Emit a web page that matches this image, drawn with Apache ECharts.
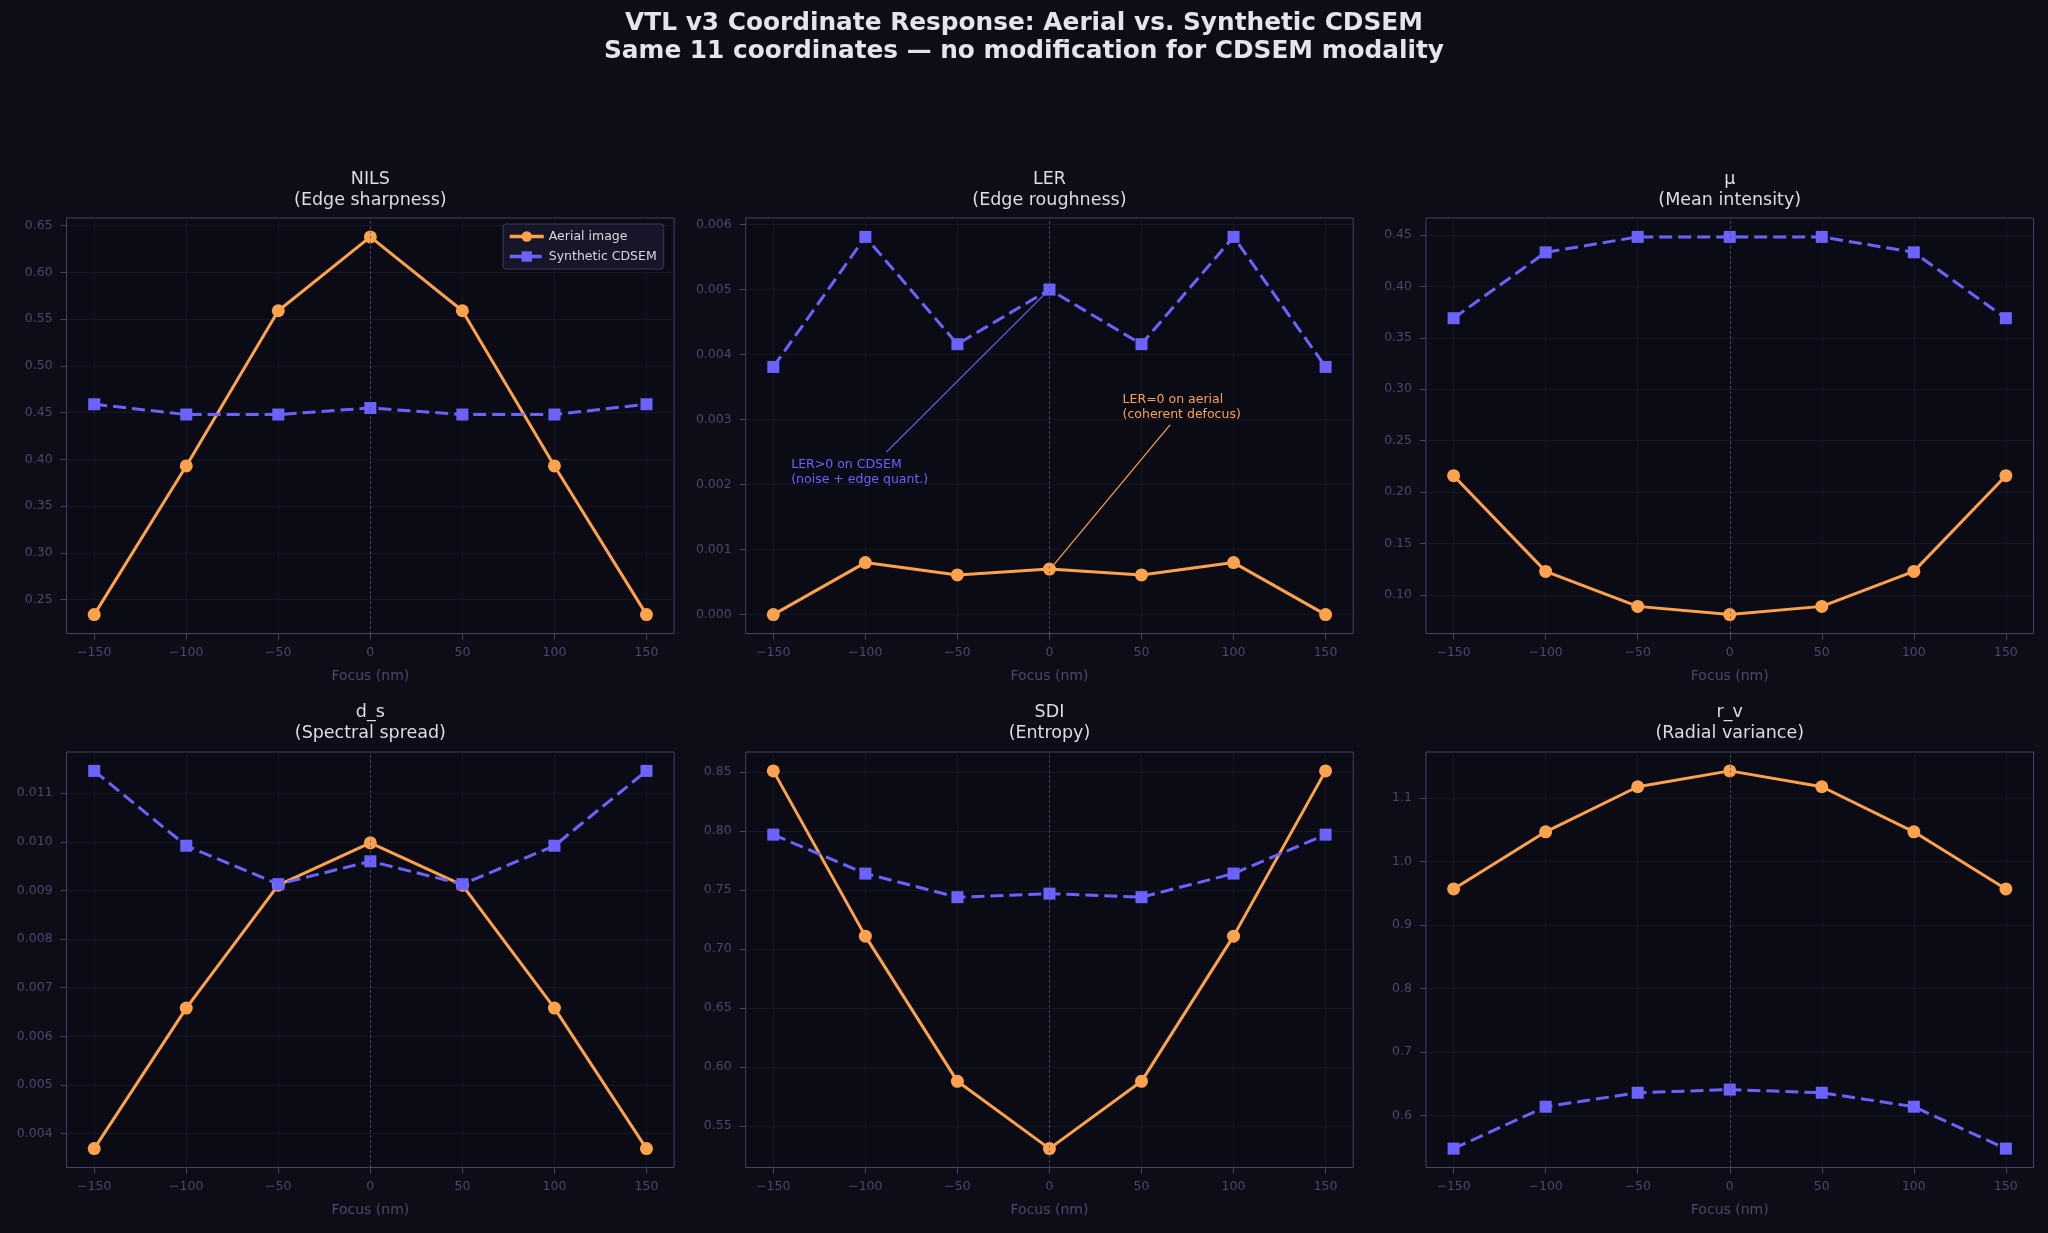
<!DOCTYPE html>
<html>
<head>
<meta charset="utf-8">
<title>VTL v3 Coordinate Response</title>
<script src="https://cdn.jsdelivr.net/npm/echarts@6/dist/echarts.min.js"></script>
<style>
  html, body { margin: 0; padding: 0; background: #0d0d18; }
  #chart { width: 2048px; height: 1233px; }
</style>
</head>
<body>
<div id="chart"></div>
<script>
  // focus positions (nm), shared by every panel
  const focus = [-150, -100, -50, 0, 50, 100, 150]
  const xTicks = [-150, -100, -50, 0, 50, 100, 150]

  // NILS (edge sharpness)
  const nilsAerial = [0.234, 0.393, 0.559, 0.638, 0.559, 0.393, 0.234]
  const nilsCdsem = [0.459, 0.448, 0.448, 0.455, 0.448, 0.448, 0.459]
  const nilsTicks = [0.25, 0.30, 0.35, 0.40, 0.45, 0.50, 0.55, 0.60, 0.65]

  // LER (edge roughness)
  const lerAerial = [0.0, 0.00080, 0.00061, 0.00070, 0.00061, 0.00080, 0.0]
  const lerCdsem = [0.00381, 0.00581, 0.00416, 0.00500, 0.00416, 0.00581, 0.00381]
  const lerTicks = [0.000, 0.001, 0.002, 0.003, 0.004, 0.005, 0.006]

  // mu (mean intensity)
  const muAerial = [0.216, 0.123, 0.089, 0.081, 0.089, 0.123, 0.216]
  const muCdsem = [0.369, 0.433, 0.448, 0.448, 0.448, 0.433, 0.369]
  const muTicks = [0.10, 0.15, 0.20, 0.25, 0.30, 0.35, 0.40, 0.45]

  // d_s (spectral spread)
  const dsAerial = [0.00369, 0.00658, 0.00911, 0.00998, 0.00911, 0.00658, 0.00369]
  const dsCdsem = [0.01146, 0.00992, 0.00913, 0.00960, 0.00913, 0.00992, 0.01146]
  const dsTicks = [0.004, 0.005, 0.006, 0.007, 0.008, 0.009, 0.010, 0.011]

  // SDI (entropy)
  const sdiAerial = [0.851, 0.711, 0.588, 0.531, 0.588, 0.711, 0.851]
  const sdiCdsem = [0.797, 0.764, 0.744, 0.747, 0.744, 0.764, 0.797]
  const sdiTicks = [0.55, 0.60, 0.65, 0.70, 0.75, 0.80, 0.85]

  // r_v (radial variance)
  const rvAerial = [0.957, 1.047, 1.118, 1.143, 1.118, 1.047, 0.957]
  const rvCdsem = [0.548, 0.614, 0.636, 0.641, 0.636, 0.614, 0.548]
  const rvTicks = [0.6, 0.7, 0.8, 0.9, 1.0, 1.1]

  // LER annotations, in data coordinates
  const cdsemNoteAt = [-140, 0.002]
  const cdsemArrow = [[-88.6, 0.0025], [-1.5, 0.00496]]
  const aerialNoteAt = [40, 0.003]
  const aerialArrow = [[65.5, 0.00292], [2.4, 0.00077]]

  const FONT = 'DejaVu Sans'
  const C_AERIAL = '#ffa24e'
  const C_CDSEM = '#6c63ff'
  const C_TICK = '#4a486c'
  const C_FRAME = '#45436a'
  const C_GRID = '#161626'
  const C_TEXT = '#e4e4ec'

  const panels = [
    {title: 'NILS', sub: 'Edge sharpness', aerial: nilsAerial, cdsem: nilsCdsem, ticks: nilsTicks, dec: 2},
    {title: 'LER', sub: 'Edge roughness', aerial: lerAerial, cdsem: lerCdsem, ticks: lerTicks, dec: 3},
    {title: 'μ', sub: 'Mean intensity', aerial: muAerial, cdsem: muCdsem, ticks: muTicks, dec: 2},
    {title: 'd_s', sub: 'Spectral spread', aerial: dsAerial, cdsem: dsCdsem, ticks: dsTicks, dec: 3},
    {title: 'SDI', sub: 'Entropy', aerial: sdiAerial, cdsem: sdiCdsem, ticks: sdiTicks, dec: 2},
    {title: 'r_v', sub: 'Radial variance', aerial: rvAerial, cdsem: rvCdsem, ticks: rvTicks, dec: 1}
  ]

  const colLeft = [66.6, 745.7, 1426]
  const rowTop = [218, 752]
  const plotW = 607.5
  const plotH = 415.5
  const titleTop = [168.5, 702]

  // matplotlib style autoscale: 5% margin on each side
  function padRange (values) {
    const lo = Math.min(...values)
    const hi = Math.max(...values)
    const pad = (hi - lo) * 0.05
    return [lo - pad, hi + pad]
  }

  const xRange = padRange(focus)
  const minus = v => v < 0 ? '\u2212' + Math.abs(v) : String(v)

  const grids = []
  const xAxes = []
  const yAxes = []
  const series = []
  const titles = [{
    text: 'VTL v3 Coordinate Response: Aerial vs. Synthetic CDSEM\nSame 11 coordinates — no modification for CDSEM modality',
    left: 'center',
    top: 9.6,
    padding: 0,
    textStyle: {fontFamily: FONT, fontSize: 24.8, fontWeight: 'bold', color: C_TEXT, lineHeight: 28}
  }]

  panels.forEach((p, i) => {
    const row = Math.floor(i / 3)
    const col = i % 3
    const yRange = padRange(p.aerial.concat(p.cdsem))

    grids.push({
      left: colLeft[col], top: rowTop[row], width: plotW, height: plotH,
      show: true, backgroundColor: '#0b0b16', borderColor: C_FRAME, borderWidth: 1
    })

    titles.push({
      text: p.title + '\n(' + p.sub + ')',
      left: colLeft[col] + plotW / 2,
      top: titleTop[row],
      textAlign: 'center',
      padding: 0,
      textStyle: {fontFamily: FONT, fontSize: 17.5, fontWeight: 'normal', color: '#dcdce6', lineHeight: 21}
    })

    xAxes.push({
      type: 'value', gridIndex: i,
      min: xRange[0], max: xRange[1],
      name: 'Focus (nm)', nameLocation: 'middle', nameGap: 36,
      nameTextStyle: {fontFamily: FONT, fontSize: 14, color: C_TICK},
      axisLine: {show: false, onZero: false},
      axisTick: {show: true, length: 6, customValues: xTicks, lineStyle: {color: C_FRAME, width: 1}},
      axisLabel: {customValues: xTicks, margin: 13, fontFamily: FONT, fontSize: 12.5, color: C_TICK, formatter: minus},
      splitLine: {show: true, lineStyle: {color: C_GRID, width: 1}}
    })

    yAxes.push({
      type: 'value', gridIndex: i,
      min: yRange[0], max: yRange[1],
      axisLine: {show: false, onZero: false},
      axisTick: {show: true, length: 6, customValues: p.ticks, lineStyle: {color: C_FRAME, width: 1}},
      axisLabel: {customValues: p.ticks, margin: 14, fontFamily: FONT, fontSize: 12.5, color: C_TICK,
        formatter: v => v.toFixed(p.dec)},
      splitLine: {show: true, lineStyle: {color: C_GRID, width: 1}}
    })

    const aerial = {
      type: 'line', name: 'Aerial image', xAxisIndex: i, yAxisIndex: i,
      data: focus.map((f, k) => [f, p.aerial[k]]),
      symbol: 'circle', symbolSize: 13,
      lineStyle: {color: C_AERIAL, width: 3},
      itemStyle: {color: C_AERIAL},
      z: 3,
      markLine: {
        silent: true, symbol: 'none', animation: false,
        label: {show: false},
        lineStyle: {color: '#555378', type: [2, 3], width: 1},
        data: [{xAxis: 0}]
      }
    }
    const cdsem = {
      type: 'line', name: 'Synthetic CDSEM', xAxisIndex: i, yAxisIndex: i,
      data: focus.map((f, k) => [f, p.cdsem[k]]),
      symbol: 'rect', symbolSize: 12,
      lineStyle: {color: C_CDSEM, width: 3, type: [13, 6]},
      itemStyle: {color: C_CDSEM},
      z: 4
    }

    if (p.title === 'LER') {
      const note = (at, text, color) => ({
        coord: at, symbol: 'rect', symbolSize: 1, itemStyle: {color: 'transparent'},
        label: {show: true, formatter: text, position: [0, 3.5], align: 'left', verticalAlign: 'bottom',
          fontFamily: FONT, fontSize: 12.5, lineHeight: 15, color: color}
      })
      const arrow = (pts, color) => ({
        silent: true, animation: false, symbol: ['none', 'arrow'], symbolSize: [0, 8],
        label: {show: false},
        lineStyle: {color: color, width: 1.2, type: 'solid'},
        data: [[{coord: pts[0]}, {coord: pts[1]}]]
      })
      cdsem.markLine = arrow(cdsemArrow, C_CDSEM)
      cdsem.markPoint = {silent: true, animation: false,
        data: [note(cdsemNoteAt, 'LER>0 on CDSEM\n(noise + edge quant.)', C_CDSEM)]}
      series.push({
        type: 'line', name: 'Aerial note', xAxisIndex: i, yAxisIndex: i, data: [],
        markLine: arrow(aerialArrow, C_AERIAL),
        markPoint: {silent: true, animation: false,
          data: [note(aerialNoteAt, 'LER=0 on aerial\n(coherent defocus)', C_AERIAL)]}
      })
    }
    series.push(aerial, cdsem)
  })

  const option = {
    backgroundColor: '#0d0d18',
    animation: false,
    title: titles,
    legend: {
      data: ['Aerial image', 'Synthetic CDSEM'],
      orient: 'vertical',
      left: 503, top: 224,
      itemWidth: 34, itemHeight: 13, itemGap: 7,
      padding: [6, 7, 6, 5],
      lineStyle: {width: 3.5},
      backgroundColor: '#161628', borderColor: '#3c3a5c', borderWidth: 1, borderRadius: 3,
      textStyle: {fontFamily: FONT, fontSize: 12.5, color: '#d8d8e2'}
    },
    grid: grids,
    xAxis: xAxes,
    yAxis: yAxes,
    series: series
  }

  const chart = echarts.init(document.getElementById('chart'), null, {renderer: 'canvas'})
  chart.setOption(option)
</script>
</body>
</html>
